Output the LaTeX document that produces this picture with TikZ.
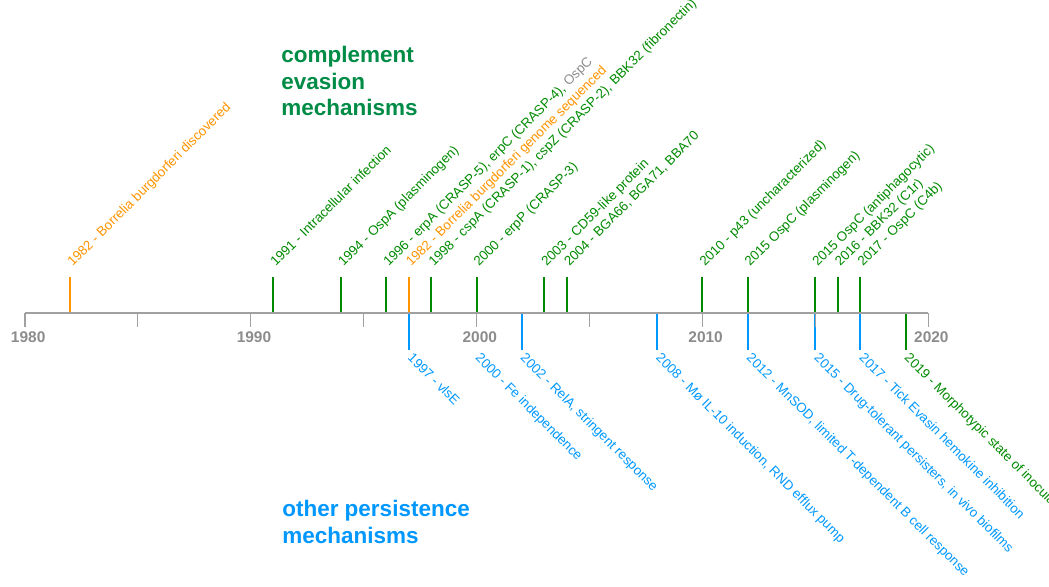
\documentclass[tikz,border=0pt]{standalone}
\usepackage{fontspec}
\setmainfont{Liberation Sans}
\definecolor{evgreen}{RGB}{0,138,0}
\definecolor{headgreen}{RGB}{0,140,70}
\definecolor{evorange}{RGB}{255,148,0}
\definecolor{evblue}{RGB}{0,152,255}
\definecolor{axisgray}{RGB}{160,160,160}
\definecolor{textgray}{RGB}{140,140,140}
\begin{document}
\begin{tikzpicture}[x=0.5645cm,
    evtick/.style={line width=1.4pt},
    uplabel/.style={anchor=base west, rotate=45, inner sep=0pt, font=\fontsize{9.5}{11}\selectfont},
    downlabel/.style={anchor=base west, rotate=-45, inner sep=0pt, font=\fontsize{9.5}{11}\selectfont},
    yearlabel/.style={anchor=north, inner sep=0pt, text=textgray, font=\fontsize{11}{13}\selectfont\bfseries},
    heading/.style={anchor=north west, align=left, inner sep=0pt, font=\fontsize{16}{19}\selectfont\bfseries}]
    \useasboundingbox (-0.625cm,-6.85cm) rectangle (25.6cm,7.825cm);

    % Complement evasion events above the axis
    \foreach \x/\col/\txt in {
        1982/evorange/{1982 - Borrelia burgdorferi discovered},
        1991/evgreen/{1991 - Intracellular infection},
        1994/evgreen/{1994 - OspA (plasminogen)},
        1996/evgreen/{1996 - erpA (CRASP-5), erpC (CRASP-4), \textcolor{textgray}{OspC}},
        1997/evorange/{1982 - Borrelia burgdorferi genome sequenced},
        1998/evgreen/{1998 - cspA (CRASP-1), cspZ (CRASP-2), BBK32 (fibronectin)},
        2000/evgreen/{2000 - erpP (CRASP-3)},
        2003/evgreen/{2003 - CD59-like protein},
        2004/evgreen/{2004 - BGA66, BGA71, BBA70},
        2010/evgreen/{2010 - p43 (uncharacterized)},
        2012/evgreen/{2015 OspC (plasminogen)},
        2015/evgreen/{2015 OspC (antiphagocytic)},
        2016/evgreen/{2016 - BBK32 (C1r)},
        2017/evgreen/{2017 - OspC (C4b)}}
    {
        \draw[evtick, \col] (\x-1980,0) -- ++(0,0.9) coordinate (tu\x);
        \node[uplabel, text=\col] (up\x) at ([xshift=0.06cm]\x-1980,1.15) {\txt};
    }

    % Other persistence events below the axis
    \foreach \x/\col/\txt in {
        1997/evblue/{1997 - vlsE},
        2002/evblue/{2002 - RelA, stringent response},
        2008/evblue/{2008 - Mø IL-10 induction, RND efflux pump},
        2012/evblue/{2012 - MnSOD, limited T-dependent B cell response},
        2015/evblue/{2015 - Drug-tolerant persisters, in vivo biofilms},
        2017/evblue/{2017 - Tick Evasin hemokine inhibition},
        2019/evgreen/{2019 - Morphotypic state of inocula}}
    {
        \draw[evtick, \col] (\x-1980,0) -- ++(0,-0.92) coordinate (td\x);
        \node[downlabel, text=\col] (dn\x) at ([xshift=-0.05cm]\x-1980,-1.14) {\txt};
    }
    \node[downlabel, text=evblue] (dn2000) at ([xshift=-0.05cm]20,-1.14) {2000 - Fe independence};

    % Draw axis, ticks and years
    \foreach \t in {0,5,...,40}
        \draw[axisgray, line width=0.8pt] (\t,0) -- (\t,-0.35);
    \draw[axisgray, line width=1.4pt] (0,0) coordinate (start) -- (40,0) coordinate (end);
    \foreach \yr in {1980,1990,2000,2010,2020}
        \node[yearlabel] (yr\yr) at ([xshift=0.08cm]\yr-1980,-0.45) {\yr};

    % Headings
    \node[heading, text=headgreen] (complement) at (6.4cm,6.675cm) {complement\\evasion\\mechanisms};
    \node[heading, text=evblue] (persistence) at (6.425cm,-4.675cm) {other persistence\\mechanisms};
\end{tikzpicture}
\end{document}
